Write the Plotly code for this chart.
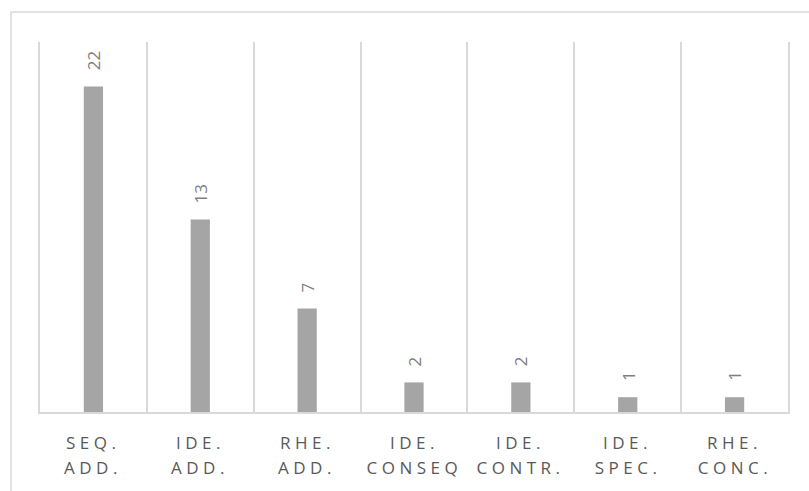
import plotly.graph_objects as go

categories = ["SEQ. ADD.", "IDE. ADD.", "RHE. ADD.", "IDE. CONSEQ", "IDE. CONTR.", "IDE. SPEC.", "RHE. CONC."]
label_line1 = ["SEQ.", "IDE.", "RHE.", "IDE.", "IDE.", "IDE.", "RHE."]
label_line2 = ["ADD.", "ADD.", "ADD.", "CONSEQ", "CONTR.", "SPEC.", "CONC."]
values = [22, 13, 7, 2, 2, 1, 1]

FONT = "Open Sans"
fig = go.Figure()
fig.add_trace(go.Bar(x=categories, y=values, marker=dict(color="#a5a5a5", line=dict(width=0)),
                     width=0.18, hoverinfo="skip"))

# category labels (two lines each)
n_lab = 0
for c, l1, l2 in zip(categories, label_line1, label_line2):
    for txt, ys in ((l1, -30), (l2, -55)):
        fig.add_annotation(x=c, y=0, xref="x", yref="paper", text=txt, showarrow=False,
                           yanchor="middle", yshift=ys,
                           font=dict(family=FONT, size=17, color="#595959"))
        n_lab += 1

# data labels
for c, v in zip(categories, values):
    fig.add_annotation(x=c, y=v, xref="x", yref="y", text=str(v), showarrow=False,
                       textangle=-90, yanchor="bottom", yshift=14,
                       font=dict(family=FONT, size=17, color="#7f7f7f"))

# outer chart border
fig.add_shape(type="rect", xref="paper", yref="paper",
              x0=-29/748, x1=820/748, y0=-100/370, y1=400/370,
              line=dict(color="#d9d9d9", width=1.5), fillcolor="rgba(0,0,0,0)", layer="below")

fig.update_layout(
    width=809, height=491,
    margin=dict(l=40, r=21, t=42, b=79),
    plot_bgcolor="white", paper_bgcolor="white",
    showlegend=False,
    font=dict(family=FONT, color="#595959"),
)
fig.update_xaxes(type="category", tickson="boundaries", showgrid=True, gridcolor="#d9d9d9", gridwidth=1.5,
                 showline=True, linecolor="#d9d9d9", linewidth=1.5, ticks="",
                 showticklabels=False, range=[-0.5, 6.5])
fig.update_yaxes(range=[0, 25], showgrid=False, showticklabels=False, zeroline=False,
                 showline=True, mirror=True, linecolor="#d9d9d9", linewidth=1.5, ticks="")

sel = ",".join('.annotation[data-index="%d"] text' % i for i in range(n_lab))
css = sel + "{letter-spacing:4.5px}"
fig.write_html("out.html", include_plotlyjs=True,
               post_script="var s=document.createElement('style');s.innerHTML='" + css.replace("'", "\\'") + "';document.head.appendChild(s);")
